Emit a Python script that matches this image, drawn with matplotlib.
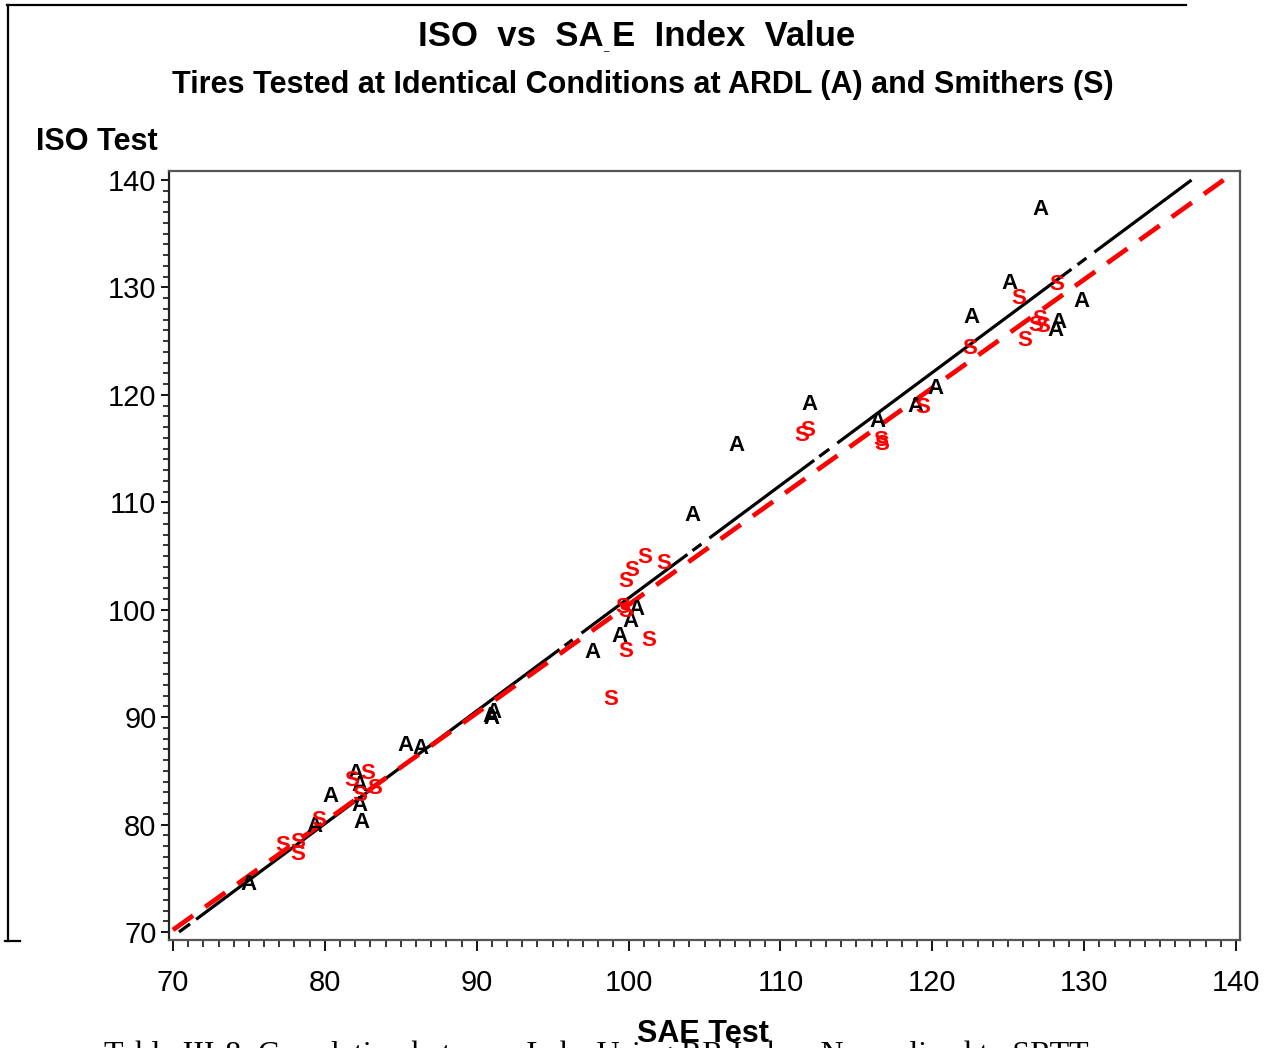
import matplotlib
matplotlib.use("Agg")
import matplotlib.pyplot as plt
from matplotlib.lines import Line2D
from matplotlib.ticker import MultipleLocator

plt.rcParams['font.family'] = ['Liberation Sans', 'DejaVu Sans']
plt.rcParams['lines.scale_dashes'] = False

# ARDL results (A): SAE index vs ISO index
ardl_sae = [127.1, 125.1, 122.6, 129.8, 128.3, 128.1, 120.2, 118.9, 116.4, 111.9,
            107.1, 104.2, 100.5, 100.1, 99.4, 97.6, 90.9, 91.1, 91.0, 85.3,
            86.3, 80.4, 82.0, 82.3, 82.3, 82.4, 79.3, 75.0]
ardl_iso = [137.3, 130.4, 127.2, 128.7, 126.7, 126.0, 120.6, 118.9, 117.5, 119.1,
            115.3, 108.8, 100.0, 98.9, 97.5, 96.0, 90.1, 90.4, 89.9, 87.4,
            87.1, 82.6, 84.8, 83.6, 81.8, 80.2, 79.8, 74.4]

# Smithers results (S)
smithers_sae = [128.2, 125.7, 122.5, 126.1, 127.1, 127.3, 126.8, 119.4, 116.6, 116.7,
                111.8, 111.4, 102.3, 101.1, 100.2, 99.8, 99.6, 99.8, 101.3, 99.8,
                98.8, 82.8, 81.8, 83.3, 82.3, 79.6, 77.2, 78.2, 78.2]
smithers_iso = [130.3, 129.0, 124.3, 125.1, 127.0, 126.4, 126.5, 118.8, 115.8, 115.4,
                116.7, 116.2, 104.3, 104.9, 103.7, 102.6, 100.2, 99.8, 97.1, 96.1,
                91.6, 84.8, 84.1, 83.4, 82.7, 80.4, 78.1, 78.3, 77.2]

# Fitted lines: (slope, intercept)
ardl_fit = (1.050, -3.92)
smithers_fit = (1.009, -0.43)

ticks = [70, 80, 90, 100, 110, 120, 130, 140]
tick_labels = [str(t) for t in ticks]

W, H = 1272, 1048
fig = plt.figure(figsize=(W / 100, H / 100), dpi=100)


def fx(px):
    return px / W


def fy(py):
    return 1 - py / H


ax = fig.add_axes([fx(169), fy(940), (1240 - 169) / W, (940 - 171) / H])
ax.set_xlim(69.74, 140.26)
ax.set_ylim(69.26, 140.84)

for side in ['top', 'right', 'bottom', 'left']:
    ax.spines[side].set_color('#555555')
    ax.spines[side].set_linewidth(1.6)
ax.spines['left'].set_color('#222222')

ax.set_xticks(ticks)
ax.set_xticklabels(tick_labels)
ax.set_yticks(ticks)
ax.set_yticklabels(tick_labels)
ax.xaxis.set_minor_locator(MultipleLocator(1))
ax.yaxis.set_minor_locator(MultipleLocator(1))
ax.tick_params(axis='x', which='major', direction='out', length=8, width=1.3,
               pad=13, labelsize=21, colors='black')
ax.tick_params(axis='x', which='minor', direction='out', length=5, width=1.1,
               colors='black')
ax.tick_params(axis='y', which='major', direction='out', length=6, width=1.3,
               pad=3, labelsize=21, colors='black')
ax.tick_params(axis='y', which='minor', direction='out', length=4, width=1.1,
               colors='black')


def clipped_line(fit, lo=70, hi=140):
    m, b = fit
    x0 = max(lo, (lo - b) / m)
    x1 = min(hi, (hi - b) / m)
    return [x0, x1], [m * x0 + b, m * x1 + b]


# Regression lines
bx, by = clipped_line(ardl_fit)
ax.plot(bx, by, color='black', lw=2.3,
        dashes=(9.9, 5.4, 326, 4.5, 7.2, 8, 95, 4.5, 8, 7.2, 94, 4.5, 9, 7.2,
                210, 5.4, 8, 7.2, 400, 5))
rx, ry = clipped_line(smithers_fit)
ax.plot(rx, ry, color='#ff0000', lw=3.4, dashes=(17.8, 10.7))

# Point labels as letters
for x, y in zip(ardl_sae, ardl_iso):
    ax.text(x, y, 'A', ha='center', va='center', fontsize=16, color='black',
            fontweight='bold')
for x, y in zip(smithers_sae, smithers_iso):
    ax.text(x, y, 'S', ha='center', va='center', fontsize=16, color='#ff0000',
            fontweight='bold')

# Titles and axis labels
fig.text(fx(637), fy(37), 'ISO  vs  SA E  Index  Value', ha='center', va='center',
         fontsize=25, fontweight='bold')
fig.text(fx(606), fy(47), '_', ha='center', va='center', fontsize=7)
fig.text(fx(643), fy(85), 'Tires Tested at Identical Conditions at ARDL (A) and Smithers (S)',
         ha='center', va='center', fontsize=22, fontweight='bold')
fig.text(fx(97), fy(142), 'ISO Test', ha='center', va='center', fontsize=22,
         fontweight='bold')
fig.text(fx(703), fy(1034), 'SAE Test', ha='center', va='center', fontsize=22,
         fontweight='bold')

# Report caption, cut off at the bottom of the page
fig.text(fx(596), fy(1055), 'Table III-8: Correlation between Labs Using RR Index, Normalized to SRTT',
         ha='center', va='center', fontsize=23, family='Liberation Serif')

# Page frame
fig.add_artist(Line2D([fx(7), fx(1186)], [fy(5), fy(5)], color='black', lw=1.6))
fig.add_artist(Line2D([fx(8), fx(8)], [fy(5), fy(941)], color='black', lw=1.6))
fig.add_artist(Line2D([fx(5), fx(20)], [fy(941), fy(941)], color='black', lw=1.6))

fig.savefig('out.png', dpi=100)
